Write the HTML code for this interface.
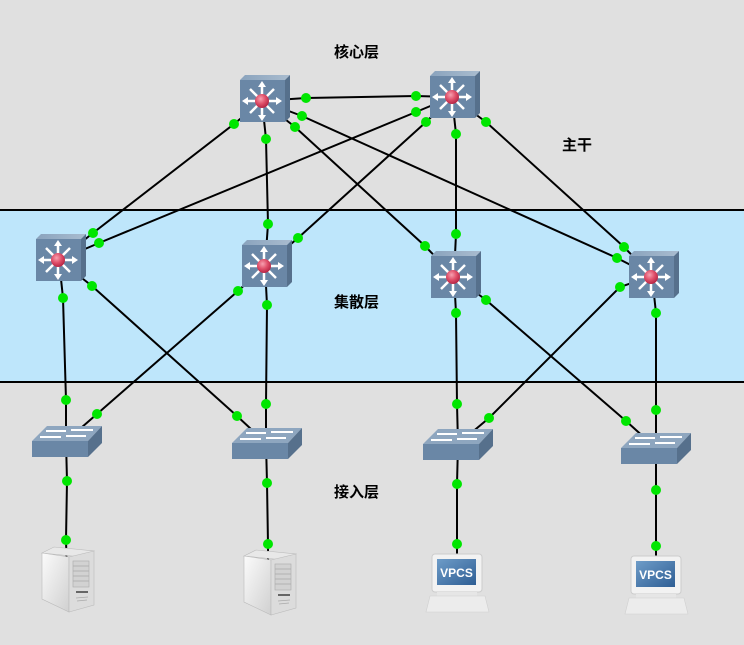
<!DOCTYPE html>
<html><head><meta charset="utf-8"><style>
html,body{margin:0;padding:0;background:#e0e0e0;}
svg{display:block}
text{font-family:"Liberation Sans","Noto Sans CJK SC",sans-serif;}
</style></head><body>
<svg width="744" height="645" viewBox="0 0 744 645" xmlns="http://www.w3.org/2000/svg">
<defs>
<linearGradient id="rt" x1="0" y1="0" x2="1" y2="0"><stop offset="0" stop-color="#8aa3bd"/><stop offset="1" stop-color="#a9bccf"/></linearGradient>
<radialGradient id="rd" cx="0.4" cy="0.35" r="0.7"><stop offset="0" stop-color="#f7a0b0"/><stop offset="0.5" stop-color="#e0506a"/><stop offset="1" stop-color="#b02040"/></radialGradient>
<linearGradient id="srv" x1="0" y1="0" x2="1" y2="1"><stop offset="0" stop-color="#fbfbfb"/><stop offset="1" stop-color="#d0d0d0"/></linearGradient>
<linearGradient id="scr" x1="0" y1="0" x2="1" y2="1"><stop offset="0" stop-color="#6e9cc8"/><stop offset="1" stop-color="#2e5e94"/></linearGradient>
<g id="router">
<polygon points="-24,-20 -19,-25 26,-25 21,-20" fill="url(#rt)"/>
<polygon points="21,-20 26,-25 26,17 21,22" fill="#56708c"/>
<rect x="-24" y="-20" width="45" height="42" fill="#6a87a6"/>
<g stroke="#fff" stroke-width="2.5" fill="#fff">
<line x1="-2" y1="-16" x2="-2" y2="18"/><line x1="-19" y1="1" x2="15" y2="1"/>
<line x1="-14" y1="-11" x2="10" y2="13"/><line x1="10" y1="-11" x2="-14" y2="13"/>
</g>
<g fill="#fff"><polygon points="-2,-19 -6,-13 2,-13"/><polygon points="-2,21 -6,15 2,15"/><polygon points="-22,1 -16,-3 -16,5"/><polygon points="18,1 12,-3 12,5"/></g>
<circle cx="-2" cy="1" r="7" fill="url(#rd)"/>
</g>
<g id="sw">
<polygon points="-34,0 -19,-15 36,-15 22,0" fill="#8ea6bf"/>
<polygon points="22,0 36,-15 36,2 22,16" fill="#56708c"/>
<rect x="-34" y="0" width="56" height="16" fill="#6a87a6"/>
<g stroke="#fff" stroke-width="2" fill="none">
<line x1="-20" y1="-10" x2="0" y2="-10"/><line x1="5" y1="-11" x2="27" y2="-11"/>
<line x1="-26" y1="-4" x2="-5" y2="-4"/><line x1="0" y1="-5" x2="20" y2="-5"/>
</g>
</g>
<g id="server">
<polygon points="0,8 12,2 52,6 40,12" fill="#e8e8e8" stroke="#bbb" stroke-width="0.6"/>
<polygon points="0,8 27,12 27,67 0,54" fill="url(#srv)" stroke="#bbb" stroke-width="0.6"/>
<polygon points="27,12 52,6 52,60 27,67" fill="#dcdcdc" stroke="#bbb" stroke-width="0.6"/>
<rect x="31" y="16" width="16" height="26" fill="#d2d2d2" stroke="#aaa" stroke-width="0.6"/>
<g stroke="#aaa" stroke-width="0.8"><line x1="31" y1="21" x2="47" y2="21"/><line x1="31" y1="26" x2="47" y2="26"/><line x1="31" y1="31" x2="47" y2="31"/><line x1="31" y1="36" x2="47" y2="36"/></g>
<rect x="34" y="46" width="12" height="2" fill="#666"/>
<g stroke="#aaa" stroke-width="0.8"><line x1="34" y1="53" x2="46" y2="52"/><line x1="35" y1="56" x2="45" y2="55"/></g>
</g>
<g id="pc">
<rect x="7" y="0" width="50" height="38" rx="3" fill="#f2f2f2" stroke="#ccc"/>
<rect x="12" y="5" width="39" height="26" fill="url(#scr)"/>
<text x="31.5" y="23" text-anchor="middle" font-size="12" font-weight="bold" fill="#fff">VPCS</text>
<rect x="12" y="38" width="40" height="4" fill="#e6e6e6"/>
<polygon points="5,42 60,42 64,58 1,58" fill="#ececec" stroke="#d0d0d0" stroke-width="0.6"/>
</g>
</defs>
<rect x="0" y="0" width="744" height="645" fill="#e0e0e0"/>
<rect x="0" y="210" width="744" height="172" fill="#bee6fb"/>
<line x1="0" y1="210" x2="744" y2="210" stroke="#000" stroke-width="2"/>
<line x1="0" y1="382" x2="744" y2="382" stroke="#000" stroke-width="2"/>
<g stroke="#000" stroke-width="2" fill="none">
<polyline points="262,101 306,98 416,96 452,97"/>
<polyline points="262,101 234,124 93,233 59,260"/>
<polyline points="262,101 266,139 268,224 265,266"/>
<polyline points="262,101 295,127 425,246 454,276"/>
<polyline points="262,101 302,116 617,258 652,276"/>
<polyline points="452,97 486,122 624,247 652,276"/>
<polyline points="452,97 416,112 99,243 59,260"/>
<polyline points="452,97 426,122 298,238 265,266"/>
<polyline points="452,97 456,134 456,234 454,276"/>
<polyline points="59,260 63,298 66,400 66,441"/>
<polyline points="59,260 92,286 237,416 266,443"/>
<polyline points="265,266 238,291 97,414 66,441"/>
<polyline points="265,266 267,305 266,404 266,443"/>
<polyline points="454,276 456,313 457,404 458,444"/>
<polyline points="454,276 486,300 626,421 656,448"/>
<polyline points="652,276 620,287 489,418 458,444"/>
<polyline points="652,276 656,313 656,410 656,448"/>
<polyline points="66,441 67,481 66,540 67,578"/>
<polyline points="266,443 267,483 268,544 268,582"/>
<polyline points="458,444 457,484 457,544 457,584"/>
<polyline points="656,448 656,490 656,546 656,586"/>
</g>
<use href="#router" x="264" y="100"/>
<use href="#router" x="454" y="96"/>
<use href="#router" x="60" y="259"/>
<use href="#router" x="266" y="265"/>
<use href="#router" x="455" y="276"/>
<use href="#router" x="653" y="276"/>
<use href="#sw" x="66" y="441"/>
<use href="#sw" x="266" y="443"/>
<use href="#sw" x="457" y="444"/>
<use href="#sw" x="655" y="448"/>
<use href="#server" x="42" y="545"/>
<use href="#server" x="244" y="548"/>
<use href="#pc" x="425" y="554"/>
<use href="#pc" x="624" y="556"/>
<g fill="#00e600">
<circle cx="306" cy="98" r="5"/><circle cx="416" cy="96" r="5"/>
<circle cx="234" cy="124" r="5"/><circle cx="93" cy="233" r="5"/>
<circle cx="266" cy="139" r="5"/><circle cx="268" cy="224" r="5"/>
<circle cx="295" cy="127" r="5"/><circle cx="425" cy="246" r="5"/>
<circle cx="302" cy="116" r="5"/><circle cx="617" cy="258" r="5"/>
<circle cx="486" cy="122" r="5"/><circle cx="624" cy="247" r="5"/>
<circle cx="416" cy="112" r="5"/><circle cx="99" cy="243" r="5"/>
<circle cx="426" cy="122" r="5"/><circle cx="298" cy="238" r="5"/>
<circle cx="456" cy="134" r="5"/><circle cx="456" cy="234" r="5"/>
<circle cx="63" cy="298" r="5"/><circle cx="66" cy="400" r="5"/>
<circle cx="92" cy="286" r="5"/><circle cx="237" cy="416" r="5"/>
<circle cx="238" cy="291" r="5"/><circle cx="97" cy="414" r="5"/>
<circle cx="267" cy="305" r="5"/><circle cx="266" cy="404" r="5"/>
<circle cx="456" cy="313" r="5"/><circle cx="457" cy="404" r="5"/>
<circle cx="486" cy="300" r="5"/><circle cx="626" cy="421" r="5"/>
<circle cx="620" cy="287" r="5"/><circle cx="489" cy="418" r="5"/>
<circle cx="656" cy="313" r="5"/><circle cx="656" cy="410" r="5"/>
<circle cx="67" cy="481" r="5"/><circle cx="66" cy="540" r="5"/>
<circle cx="267" cy="483" r="5"/><circle cx="268" cy="544" r="5"/>
<circle cx="457" cy="484" r="5"/><circle cx="457" cy="544" r="5"/>
<circle cx="656" cy="490" r="5"/><circle cx="656" cy="546" r="5"/>
</g>
<g font-size="15" font-weight="bold" fill="#000">
<text x="334" y="57">核心层</text>
<text x="562" y="150">主干</text>
<text x="334" y="307">集散层</text>
<text x="334" y="497">接入层</text>
</g>
</svg>
</body></html>
